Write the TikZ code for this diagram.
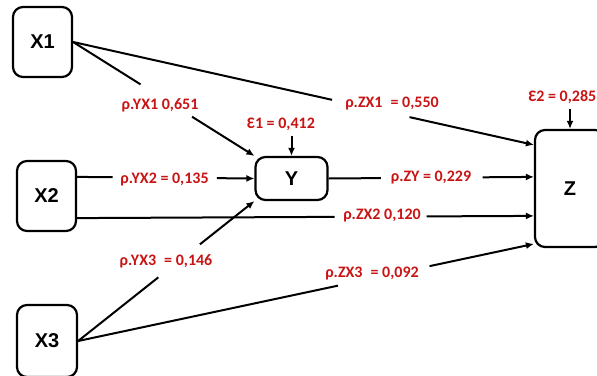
\documentclass[tikz,border=0pt]{standalone}
\usepackage{fontspec}
\setmainfont{Carlito}
\newfontfamily\boxfont{Liberation Sans}
\usetikzlibrary{calc,arrows.meta}
\definecolor{lblred}{RGB}{200,20,20}
\begin{document}
\begin{tikzpicture}[x=1pt,y=-1pt,
  box/.style={draw,line width=2.2pt,rounded corners=10pt,inner sep=0pt,font=\boxfont\bfseries\fontsize{20}{24}\selectfont},
  lbl/.style={text=lblred,font=\bfseries\fontsize{16}{18}\selectfont,inner sep=0pt},
  conn/.style={line width=2pt},
  arr/.style={conn,-{Latex[length=8pt,width=7pt]}}]
\useasboundingbox (0,0) rectangle (597,375);
% boxes
\node[box,minimum width=59pt,minimum height=70pt] (X1) at (42.5,42) {X1};
\node[box,minimum width=59pt,minimum height=70pt] (X2) at (46.5,196) {X2};
\node[box,minimum width=60pt,minimum height=72pt] (X3) at (47,341) {X3};
\node[box,minimum width=72pt,minimum height=43pt] (Y) at (291.5,178.5) {Y};
\node[box,minimum width=70pt,minimum height=117pt] (Z) at (570,188.5) {Z};
% anchor points
\coordinate (x2a) at ($(X2.north east)+(0,17)$);
\coordinate (x2b) at ($(X2.south east)+(0,-14)$);
\coordinate (z1) at ($(Z.north west)+(0,16)$);
\coordinate (z2) at ($(Z.north west)+(0,48)$);
\coordinate (z3) at ($(Z.north west)+(0,87)$);
\coordinate (z4) at ($(Z.north west)+(0,115)$);
\coordinate (e1) at ($(Y.north)+(0,-20)$);
\coordinate (e2) at ($(Z.north)+(0,-20)$);
% labels
\node[lbl] (lyx1) at (160,105) {ρ.YX1 0,651};
\node[lbl] (lzx1) at (392,104) {ρ.ZX1\hspace{0.5em}= 0,550};
\node[lbl] (lyx2) at (164.5,180) {ρ.YX2 = 0,135};
\node[lbl] (lzy) at (431,178) {ρ.ZY = 0,229};
\node[lbl] (lzx2) at (382,216) {ρ.ZX2 0,120};
\node[lbl] (lyx3) at (166,261) {ρ.YX3\hspace{0.5em}= 0,146};
\node[lbl] (lzx3) at (372,274) {ρ.ZX3\hspace{0.5em}= 0,092};
\node[lbl] (le1) at (281,124) {Ɛ1 = 0,412};
\node[lbl,anchor=east] (le2) at (596.5,97) {Ɛ2 = 0,285};
% connectors
\draw[conn] (X1.east) -- ($(X1.east)!0.562!(z1)$);
\draw[arr] ($(X1.east)!0.730!(z1)$) -- (z1);
\draw[conn] (X1.east) -- ($(X1.east)!0.372!(Y.north west)$);
\draw[arr] ($(X1.east)!0.656!(Y.north west)$) -- (Y.north west);
\draw[conn] (x2a) -- ($(x2a)!0.201!(Y.west)$);
\draw[arr] ($(x2a)!0.788!(Y.west)$) -- (Y.west);
\draw[conn] (Y.east) -- ($(Y.east)!0.255!(z2)$);
\draw[arr] ($(Y.east)!0.75!(z2)$) -- (z2);
\draw[conn] (x2b) -- ($(x2b)!0.564!(z3)$);
\draw[arr] ($(x2b)!0.765!(z3)$) -- (z3);
\draw[conn] (X3.east) -- ($(X3.east)!0.455!(Y.south west)$);
\draw[arr] ($(X3.east)!0.691!(Y.south west)$) -- (Y.south west);
\draw[conn] (X3.east) -- ($(X3.east)!0.570!(z4)$);
\draw[arr] ($(X3.east)!0.771!(z4)$) -- (z4);
\draw[arr] (e1) -- (Y.north);
\draw[arr] (e2) -- (Z.north);
\end{tikzpicture}
\end{document}
